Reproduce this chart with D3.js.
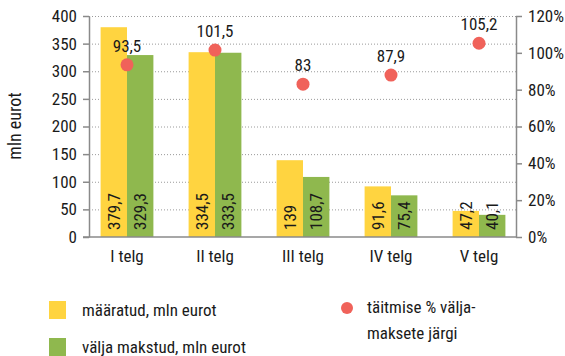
<!DOCTYPE html>
<html>
<head>
<meta charset="utf-8">
<script src="https://cdn.jsdelivr.net/npm/d3@7"></script>
<style>
  html, body { margin: 0; padding: 0; background: #fff; }
  svg text { font-family: "Liberation Sans Narrow", "Roboto Condensed", "Roboto", sans-serif; fill: #1a1a1a; }
</style>
</head>
<body>
<svg id="chart" width="565" height="356"></svg>
<script>
// Periods and values
const categories = ["I telg", "II telg", "III telg", "IV telg", "V telg"];
const assigned = [379.7, 334.5, 139, 91.6, 47.2];      // määratud, mln eurot
const paid = [329.3, 333.5, 108.7, 75.4, 40.1];        // välja makstud, mln eurot
const fulfilment = [93.5, 101.5, 83, 87.9, 105.2];     // täitmise % väljamaksete järgi
const leftTicks = [0, 50, 100, 150, 200, 250, 300, 350, 400];
const rightTicks = [0, 20, 40, 60, 80, 100, 120];

const colors = { assigned: "#FFD440", paid: "#8FB84E", dot: "#F0625A" };
const fmt = v => String(v).replace(".", ",");
const FS = 17;

const svg = d3.select("#chart");
const plot = { left: 89, right: 516, top: 16, bottom: 237 };

const x = d3.scaleBand().domain(categories).range([83, 523]).paddingInner(0.4).paddingOuter(0.2);
const series = ["assigned", "paid"];
const xs = d3.scaleBand().domain(series).range([0, x.bandwidth()]);
const y = d3.scaleLinear().domain([0, 400]).range([plot.bottom, plot.top]);
const y2 = d3.scaleLinear().domain([0, 120]).range([plot.bottom, plot.top]);

// Dotted gridlines
svg.append("g").selectAll("line").data(leftTicks.slice(1)).join("line")
  .attr("x1", plot.left).attr("x2", plot.right)
  .attr("y1", d => y(d) + 0.5).attr("y2", d => y(d) + 0.5)
  .attr("stroke", "#9a9a9a").attr("stroke-width", 1).attr("stroke-dasharray", "1,2");

// Bars with rotated value labels
const groups = svg.append("g").selectAll("g").data(categories).join("g")
  .attr("transform", d => `translate(${x(d)},0)`);
groups.each(function(c, i) {
  const g = d3.select(this);
  const data = [
    { key: "assigned", v: assigned[i] },
    { key: "paid", v: paid[i] }
  ];
  g.selectAll("rect").data(data).join("rect")
    .attr("x", d => xs(d.key)).attr("width", xs.bandwidth())
    .attr("y", d => y(d.v)).attr("height", d => y(0) - y(d.v))
    .attr("fill", d => colors[d.key]);
  g.selectAll("text").data(data).join("text")
    .attr("transform", d => `translate(${xs(d.key) + xs.bandwidth() / 2 + 6},${y(0) - 7}) rotate(-90)`)
    .attr("text-anchor", "start")
    .attr("font-size", FS)
    .text(d => fmt(d.v));
});

// Axes
const axisL = svg.append("g").attr("transform", `translate(${plot.left},0)`)
  .call(d3.axisLeft(y).tickValues(leftTicks).tickSize(6).tickSizeOuter(0).tickPadding(6));
const axisR = svg.append("g").attr("transform", `translate(${plot.right},0)`)
  .call(d3.axisRight(y2).tickValues(rightTicks).tickSize(6).tickSizeOuter(0).tickPadding(6).tickFormat(d => d + "%"));
[axisL, axisR].forEach(a => {
  a.select(".domain").attr("stroke", "#8a8a8a").attr("stroke-width", 1.5);
  a.selectAll(".tick line").attr("stroke", "#8a8a8a").attr("stroke-width", 1.5);
  a.selectAll(".tick text").attr("font-size", FS).attr("fill", "#1a1a1a")
    .style("font-family", '"Liberation Sans Narrow", "Roboto Condensed", Roboto, sans-serif');
});
// Baseline
svg.append("line").attr("x1", plot.left - 6).attr("x2", plot.right)
  .attr("y1", y(0)).attr("y2", y(0)).attr("stroke", "#8a8a8a").attr("stroke-width", 1.5);

// Category labels
svg.append("g").selectAll("text").data(categories).join("text")
  .attr("x", d => x(d) + x.bandwidth() / 2).attr("y", 262)
  .attr("text-anchor", "middle").attr("font-size", FS)
  .text(d => d);

// Fulfilment dots and their labels
svg.append("g").selectAll("circle").data(fulfilment).join("circle")
  .attr("cx", (d, i) => x(categories[i]) + x.bandwidth() / 2)
  .attr("cy", d => y2(d)).attr("r", 6.5).attr("fill", colors.dot);
svg.append("g").selectAll("text").data(fulfilment).join("text")
  .attr("x", (d, i) => x(categories[i]) + x.bandwidth() / 2)
  .attr("y", d => y2(d) - 13)
  .attr("text-anchor", "middle").attr("font-size", FS)
  .text(d => fmt(d));

// Axis title
svg.append("text").attr("transform", "translate(21,126) rotate(-90)")
  .attr("text-anchor", "middle").attr("font-size", 18).text("mln eurot");

// Legend
const legend = svg.append("g");
legend.append("rect").attr("x", 49).attr("y", 301).attr("width", 17).attr("height", 18).attr("fill", colors.assigned);
legend.append("text").attr("x", 82).attr("y", 316).attr("font-size", FS).text("määratud, mln eurot");
legend.append("rect").attr("x", 49).attr("y", 338).attr("width", 17).attr("height", 18).attr("fill", colors.paid);
legend.append("text").attr("x", 82).attr("y", 353).attr("font-size", FS).text("välja makstud, mln eurot");
legend.append("circle").attr("cx", 347).attr("cy", 308).attr("r", 6).attr("fill", colors.dot);
legend.append("text").attr("x", 367).attr("y", 313).attr("font-size", FS).text("täitmise % välja-");
legend.append("text").attr("x", 367).attr("y", 339).attr("font-size", FS).text("maksete järgi");
</script>
</body>
</html>
